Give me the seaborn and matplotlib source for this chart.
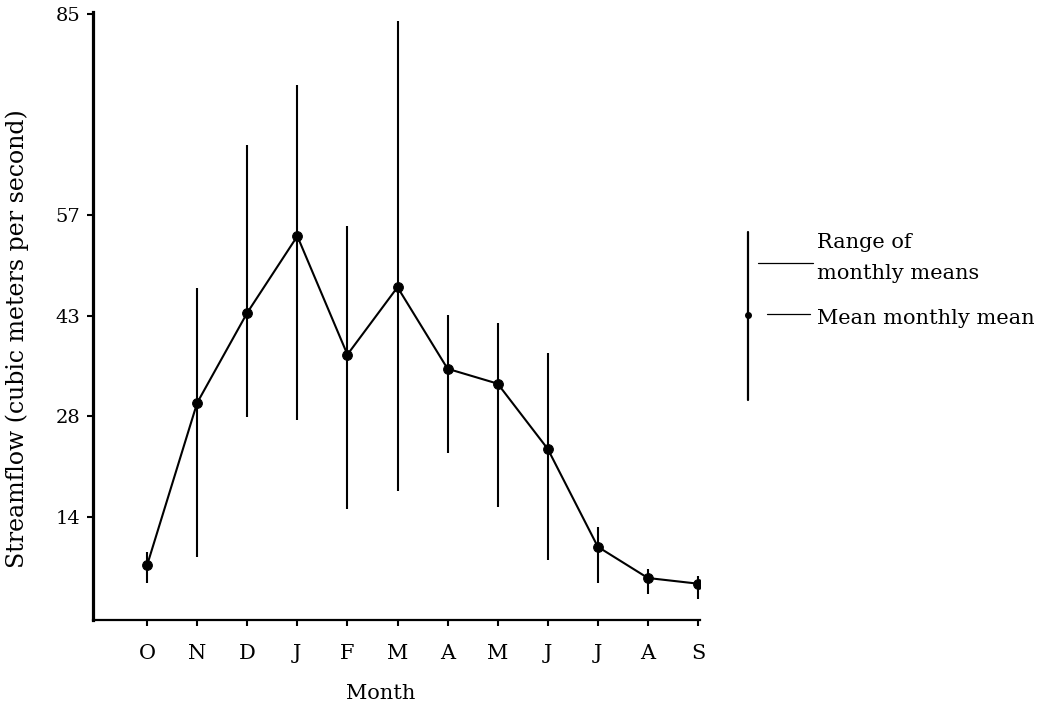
import matplotlib
matplotlib.use("Agg")
import matplotlib.pyplot as plt
import seaborn as sns
import pandas as pd

# Monthly streamflow, water year October -> September
months = ["O", "N", "D", "J", "F", "M", "A", "M", "J", "J", "A", "S"]
mean_flow = [7.3, 30.2, 42.9, 53.7, 37.0, 46.5, 35.0, 32.9, 23.7, 9.9, 5.5, 4.7]
range_low = [4.8, 8.5, 28.2, 27.8, 15.2, 17.8, 23.1, 15.5, 8.0, 4.8, 3.2, 2.5]
range_high = [9.2, 46.4, 66.6, 75.0, 55.1, 84.0, 42.6, 41.5, 37.2, 12.7, 6.8, 5.8]

# y ticks sit at even 500 ft3/s steps, labelled in m3/s
ytick_values = [14.16, 28.32, 42.48, 56.63, 84.95]
ytick_labels = ["14", "28", "43", "57", "85"]

legend_labels = ["Range of\nmonthly means", "Mean monthly mean"]

df = pd.DataFrame({
    "pos": range(len(months)),
    "month": months,
    "mean": mean_flow,
    "low": range_low,
    "high": range_high,
})

sns.set_style("ticks")
plt.rcParams["font.family"] = ["DejaVu Serif"]
plt.rcParams.update({
    "axes.linewidth": 1.5,
    "axes.edgecolor": "black",
    "axes.labelcolor": "black",
    "text.color": "black",
    "xtick.color": "black",
    "ytick.color": "black",
})

W, H = 1061, 711
fig = plt.figure(figsize=(W / 100, H / 100), dpi=100)
ax = fig.add_axes([93 / W, 1 - 620 / H, (700 - 93) / W, (620 - 12) / H])

# range of monthly means
ax.vlines(df["pos"], df["low"], df["high"], color="black", lw=1.5)
# mean monthly mean, connected
sns.lineplot(data=df, x="pos", y="mean", ax=ax, color="black", lw=1.5,
             marker="o", markersize=7, markeredgecolor="black")

ax.set_xlim(-1.08, 11.04)
ax.set_ylim(-0.42, 85.3)
ax.set_xticks(df["pos"])
ax.set_xticklabels(months, fontsize=15)
ax.set_yticks(ytick_values)
ax.set_yticklabels(ytick_labels, fontsize=14)
ax.tick_params(axis="x", direction="out", length=4, width=1.5, pad=13)
ax.tick_params(axis="y", direction="out", length=4, width=1.5, pad=5)
ax.spines["left"].set_linewidth(2.3)
ax.spines["bottom"].set_linewidth(1.6)
sns.despine(ax=ax)

ax.set_xlabel("Month", fontsize=15)
ax.xaxis.set_label_coords(0.474, -0.105)
ax.set_ylabel("Streamflow (cubic meters per second)", fontsize=17)
ax.yaxis.set_label_coords(-0.124, 0.462)
ax.yaxis.label.set_va("center")

# explanatory key to the right of the plot
lg = fig.add_axes([0, 0, 1, 1])
lg.set_xlim(0, W)
lg.set_ylim(H, 0)
lg.axis("off")
lg.patch.set_alpha(0)
lg.plot([748, 748], [232, 400], color="black", lw=1.6)
lg.plot([748], [315], "o", color="black", markersize=4)
lg.plot([758, 813], [263, 263], color="black", lw=0.9)
lg.plot([767, 810], [314, 314], color="black", lw=0.9)
lg.text(817, 258, legend_labels[0], fontsize=15, ha="left", va="center",
        linespacing=1.75)
lg.text(817, 319, legend_labels[1], fontsize=15, ha="left", va="center")

fig.savefig("out.png", dpi=100)
